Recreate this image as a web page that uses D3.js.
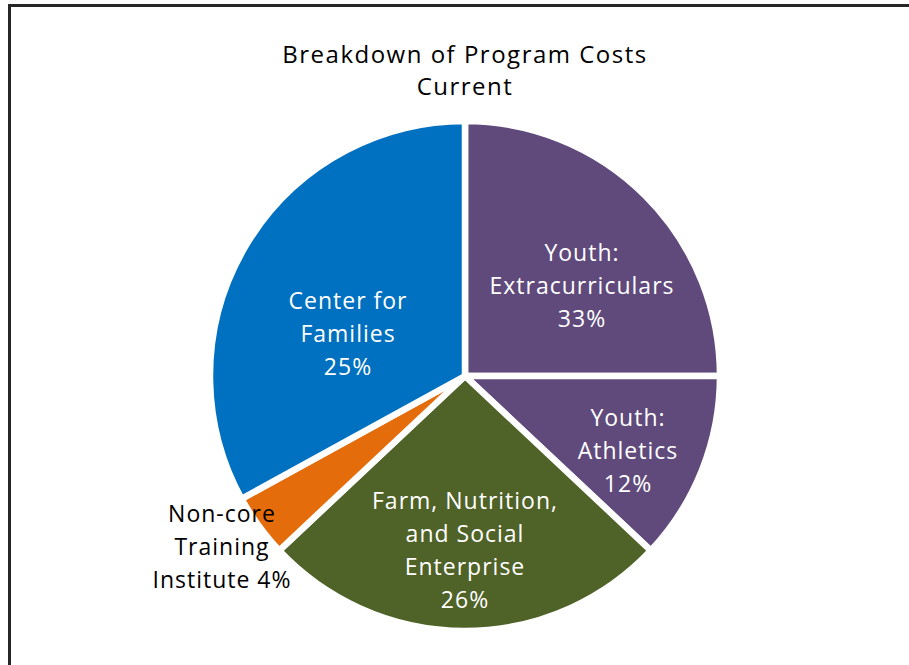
<!DOCTYPE html>
<html>
<head>
<meta charset="utf-8">
<script src="https://cdn.jsdelivr.net/npm/d3@7"></script>
<style>
  body { margin: 0; background: #fff; }
  svg { display: block; }
</style>
</head>
<body>
<svg width="909" height="665"></svg>
<script>
const categories = [
    "Youth: Extracurriculars",
    "Youth: Athletics",
    "Farm, Nutrition, and Social Enterprise",
    "Non-core Training Institute",
    "Center for Families"
];
// slice sizes as drawn (percent)
const values = [25, 12, 26, 4, 33];
// percentages printed on the labels
const labelPercents = ["33%", "12%", "26%", "4%", "25%"];
const labelLines = [
    ["Youth:", "Extracurriculars"],
    ["Youth:", "Athletics"],
    ["Farm, Nutrition,", "and Social", "Enterprise"],
    ["Non-core", "Training", "Institute 4%"],
    ["Center for", "Families"]
];
const colors = ["#604a7b", "#604a7b", "#4f6228", "#e46c0a", "#0070c0"];
const titleLines = ["Breakdown of Program Costs", "Current"];

const svg = d3.select("svg");
const font = "'Open Sans', Lato, sans-serif";

// chart frame (only top and left edges visible)
svg.append("rect")
    .attr("x", 9.5)
    .attr("y", 5.5)
    .attr("width", 1200)
    .attr("height", 1200)
    .attr("fill", "none")
    .attr("stroke", "#262626")
    .attr("stroke-width", 3);

svg.selectAll(".title")
    .data(titleLines)
    .enter()
    .append("text")
    .attr("class", "title")
    .attr("x", 465)
    .attr("y", (d, i) => 55 + i * 32)
    .attr("dy", "0.35em")
    .attr("text-anchor", "middle")
    .attr("font-family", font)
    .attr("font-size", "24px")
    .attr("letter-spacing", "1.5px")
    .attr("fill", "#000")
    .text(d => d);

const cx = 465, cy = 376, radius = 255;

const g = svg.append("g")
    .attr("transform", `translate(${cx}, ${cy})`);

const pie = d3.pie()
    .sort(null)
    .value(d => d.value);

const arc = d3.arc()
    .innerRadius(0)
    .outerRadius(radius);

const data = categories.map((c, i) => ({
    name: c,
    value: values[i],
    color: colors[i],
    lines: labelLines[i],
    pct: labelPercents[i]
}));

const arcs = pie(data);

g.selectAll(".slice")
    .data(arcs)
    .enter()
    .append("path")
    .attr("class", "slice")
    .attr("d", arc)
    .attr("fill", d => d.data.color)
    .attr("stroke", "#fff")
    .attr("stroke-width", 6.5)
    .attr("stroke-linejoin", "miter");

// label anchors relative to the pie centre (Excel "best fit" placement)
const labelAnchors = [
    [117, -90],
    [163, 75],
    [0, 174],
    [-243, 171],
    [-117, -42]
];
const lineGap = 33;

arcs.forEach((a, i) => {
    const d = a.data;
    const inside = d.name !== "Non-core Training Institute";
    const lines = inside ? d.lines.concat([d.pct]) : d.lines;
    const top = labelAnchors[i][1] - (lines.length - 1) * lineGap / 2;
    g.append("text")
        .attr("text-anchor", "middle")
        .attr("font-family", font)
        .attr("font-size", "23px")
        .attr("letter-spacing", "1px")
        .attr("fill", inside ? "#fff" : "#000")
        .selectAll("tspan")
        .data(lines)
        .enter()
        .append("tspan")
        .attr("x", labelAnchors[i][0])
        .attr("y", (l, j) => top + j * lineGap)
        .attr("dy", "0.35em")
        .text(l => l);
});
</script>
</body>
</html>
